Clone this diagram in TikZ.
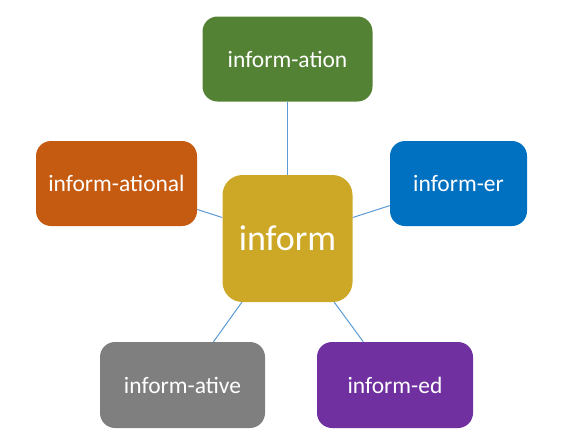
\documentclass[tikz,border=0pt]{standalone}
\usepackage{fontspec}
\setmainfont{Carlito}
\definecolor{cgold}{HTML}{CDA826}
\definecolor{cgreen}{HTML}{548235}
\definecolor{corange}{HTML}{C55A11}
\definecolor{cblue}{HTML}{0070C0}
\definecolor{cgray}{HTML}{7F7F7F}
\definecolor{cpurple}{HTML}{7030A0}
\definecolor{cline}{HTML}{5B9BD5}
\begin{document}
\begin{tikzpicture}[x=1pt,y=-1pt,
  leaf/.style={rounded corners=15pt, inner sep=0pt, text=white, minimum height=85pt,
    font=\fontsize{23.5}{28}\selectfont},
  hub/.style={rounded corners=20pt, inner sep=0pt, text=white, fill=cgold,
    minimum width=130pt, minimum height=127pt, font=\fontsize{36}{42}\selectfont},
  link/.style={draw=cline, line width=1pt}]
\useasboundingbox (0,0) rectangle (561,447);
\node[hub] (c) at (287.5,238.5) {inform};
\node[leaf, fill=cgreen, minimum width=170pt] (t) at (287.5,59) {inform-ation};
\node[leaf, fill=corange, minimum width=161pt] (l) at (116.5,183.5) {inform-ational};
\node[leaf, fill=cblue, minimum width=137pt] (r) at (458.5,183.5) {inform-er};
\node[leaf, fill=cgray, minimum width=165pt, minimum height=86pt] (bl) at (182.5,385) {inform-ative};
\node[leaf, fill=cpurple, minimum width=156pt, minimum height=86pt] (br) at (395,385) {inform-ed};
\draw[link] (c) -- (t);
\draw[link] (c) -- (l);
\draw[link] (c) -- (r);
\draw[link] (c) -- (bl);
\draw[link] (c) -- (br);
\end{tikzpicture}
\end{document}
